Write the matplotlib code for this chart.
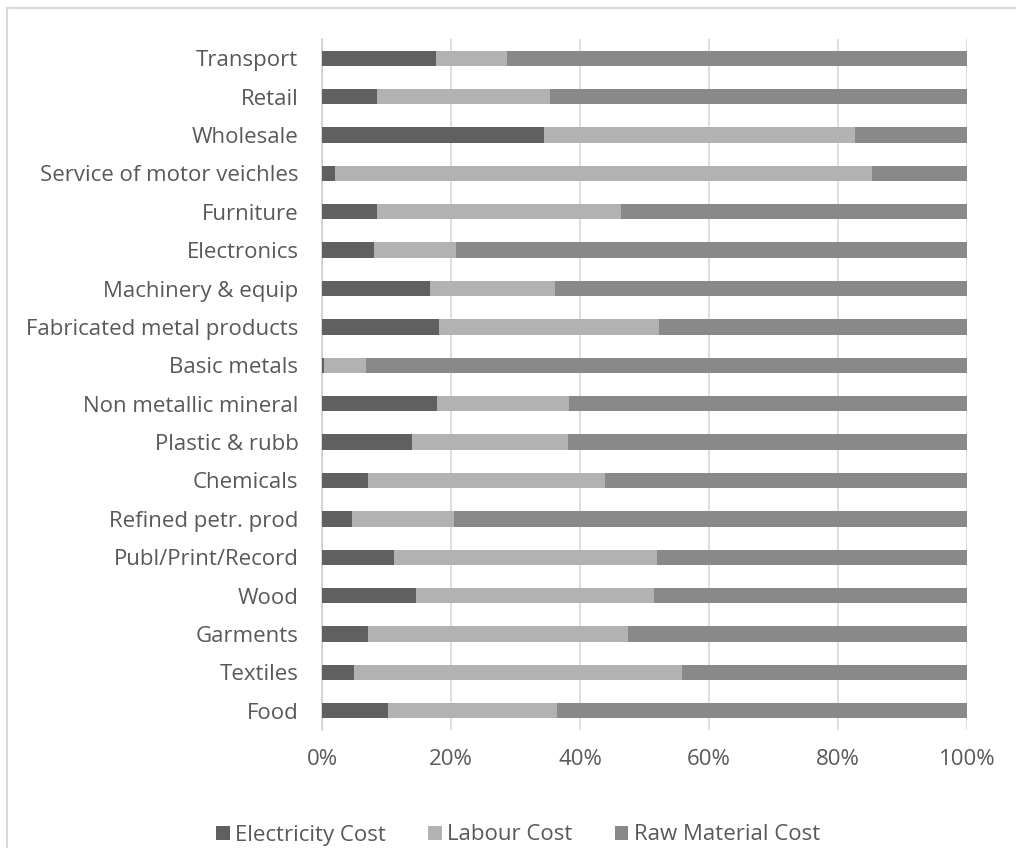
import matplotlib
matplotlib.use("Agg")
import matplotlib.pyplot as plt
from matplotlib.patches import Rectangle

# sectors, bottom to top
sectors = ["Food", "Textiles", "Garments", "Wood", "Publ/Print/Record",
           "Refined petr. prod", "Chemicals", "Plastic & rubb",
           "Non metallic mineral", "Basic metals", "Fabricated metal products",
           "Machinery & equip", "Electronics", "Furniture",
           "Service of motor veichles", "Wholesale", "Retail", "Transport"]

# cost shares in %
electricity = [10.2, 4.9, 7.2, 14.6, 11.2, 4.7, 7.2, 14.0, 17.9, 0.3,
               18.1, 16.7, 8.0, 8.5, 2.0, 34.4, 8.5, 17.6]
labour = [26.3, 50.9, 40.2, 36.8, 40.8, 15.8, 36.6, 24.1, 20.4, 6.5,
          34.1, 19.5, 12.7, 37.9, 83.2, 48.3, 26.9, 11.1]
raw_material = [100 - e - l for e, l in zip(electricity, labour)]

series_names = ["Electricity Cost", "Labour Cost", "Raw Material Cost"]
colors = ["#606060", "#b2b2b2", "#898989"]
text_col = "#595959"

plt.rcParams["font.family"] = ["Open Sans", "DejaVu Sans"]

fig = plt.figure(figsize=(10.16, 8.48), dpi=100)
ax = fig.add_axes([322/1016, 1 - 730/848, 645/1016, 691/848])

ypos = range(len(sectors))
left = [0] * len(sectors)
for vals, name, c in zip([electricity, labour, raw_material], series_names, colors):
    ax.barh(ypos, vals, left=left, height=0.4, color=c, label=name, zorder=3)
    left = [a + b for a, b in zip(left, vals)]

ax.set_xlim(0, 100)
ax.set_ylim(-0.5, len(sectors) - 0.5)
ax.set_xticks(range(0, 101, 20))
ax.set_xticklabels(["{}%".format(t) for t in range(0, 101, 20)])
ax.set_yticks(list(ypos))
ax.set_yticklabels(sectors)
ax.grid(axis="x", color="#d9d9d9", linewidth=1.2, zorder=0)
ax.tick_params(length=0, labelsize=16, colors=text_col)
ax.tick_params(axis="x", pad=14)
ax.tick_params(axis="y", pad=17)
for s in ["top", "right", "bottom"]:
    ax.spines[s].set_visible(False)
ax.spines["left"].set_color("#d0d0d0")
ax.spines["left"].set_linewidth(1.2)

leg = fig.legend(loc="center", bbox_to_anchor=(518/1016, 1 - 835/848), ncol=3,
                 frameon=False, fontsize=16, handlelength=0.6, handleheight=0.6,
                 handletextpad=0.25, columnspacing=1.9, borderpad=0.2)
for t in leg.get_texts():
    t.set_color(text_col)

# chart frame
fig.patches.append(Rectangle((7/1016, -0.1), 1.2, 1 - 8/848 + 0.1,
                             transform=fig.transFigure, fill=False,
                             edgecolor="#d9d9d9", linewidth=1.5))

fig.savefig("out.png", dpi=100)
